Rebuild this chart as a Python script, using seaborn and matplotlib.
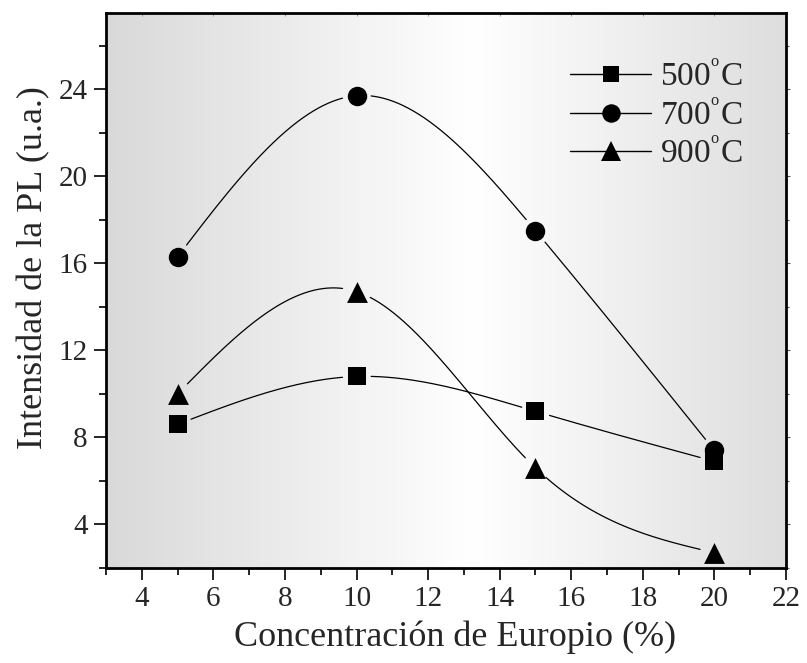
import numpy as np
import pandas as pd
import matplotlib
matplotlib.use("Agg")
import matplotlib.pyplot as plt
from matplotlib.colors import LinearSegmentedColormap
from matplotlib.lines import Line2D
import seaborn as sns

# Europium concentration (%) and PL intensity (a.u.) per annealing temperature
concentracion = [5, 10, 15, 20]
pl_500 = [8.6, 10.8, 9.2, 6.9]
pl_700 = [16.3, 23.7, 17.5, 7.4]
pl_900 = [10.0, 14.7, 6.6, 2.7]
series_labels = ["500$^{^{\\rm o}}$C", "700$^{^{\\rm o}}$C", "900$^{^{\\rm o}}$C"]
x_ticks = [4, 6, 8, 10, 12, 14, 16, 18, 20, 22]
y_ticks = [4, 8, 12, 16, 20, 24]

sns.set_style("ticks")
plt.rcParams["font.family"] = ["Liberation Serif", "DejaVu Serif"]
plt.rcParams["mathtext.fontset"] = "custom"
plt.rcParams["mathtext.rm"] = "Liberation Serif"
plt.rcParams["mathtext.it"] = "Liberation Serif:italic"


def natural_spline(x, y, xs):
    """Natural cubic spline through (x, y), evaluated at xs."""
    x = np.asarray(x, float)
    y = np.asarray(y, float)
    n = len(x)
    h = np.diff(x)
    A = np.zeros((n, n))
    b = np.zeros(n)
    A[0, 0] = A[-1, -1] = 1.0
    for i in range(1, n - 1):
        A[i, i - 1] = h[i - 1]
        A[i, i] = 2 * (h[i - 1] + h[i])
        A[i, i + 1] = h[i]
        b[i] = 3 * ((y[i + 1] - y[i]) / h[i] - (y[i] - y[i - 1]) / h[i - 1])
    c = np.linalg.solve(A, b)
    out = np.empty_like(xs)
    for k, xv in enumerate(xs):
        i = min(max(np.searchsorted(x, xv) - 1, 0), n - 2)
        dx = xv - x[i]
        bi = (y[i + 1] - y[i]) / h[i] - h[i] * (2 * c[i] + c[i + 1]) / 3
        di = (c[i + 1] - c[i]) / (3 * h[i])
        out[k] = y[i] + bi * dx + c[i] * dx ** 2 + di * dx ** 3
    return out


fig = plt.figure(figsize=(8.07, 6.63), dpi=100)
ax = fig.add_axes([106 / 807, 1 - 568 / 663, 680 / 807, 555 / 663])
ax.set_xlim(3, 22)
ax.set_ylim(2, 27.5)

# horizontal gray-white-gray gradient background
grad_cmap = LinearSegmentedColormap.from_list(
    "bg", [(0.0, "#d9d9d9"), (0.54, "#ffffff"), (1.0, "#dedede")])
ax.imshow(np.linspace(0, 1, 512)[None, :], cmap=grad_cmap, aspect="auto",
          extent=[0, 1, 0, 1], transform=ax.transAxes, zorder=0)

markers = ["s", "o", "^"]
sizes = [12.5, 14, 15]
values = [pl_500, pl_700, pl_900]

df = pd.DataFrame({
    "x": concentracion * 3,
    "y": pl_500 + pl_700 + pl_900,
    "serie": sum([[lab] * 4 for lab in series_labels], []),
})

xs = np.linspace(concentracion[0], concentracion[-1], 600)
gap_px = 14.0
for vals in values:
    ys = natural_spline(concentracion, vals, xs)
    pts = ax.transData.transform(np.column_stack([xs, ys]))
    ctr = ax.transData.transform(np.column_stack([concentracion, vals]))
    d = np.min(np.hypot(pts[:, None, 0] - ctr[None, :, 0],
                        pts[:, None, 1] - ctr[None, :, 1]), axis=1)
    ys = np.where(d < gap_px, np.nan, ys)
    ax.plot(xs, ys, color="black", lw=0.9, zorder=2)

for (lab, mk, ms) in zip(series_labels, markers, sizes):
    sub = df[df["serie"] == lab]
    sns.scatterplot(data=sub, x="x", y="y", marker=mk, s=ms ** 2,
                    color="black", edgecolor="black", linewidth=0,
                    ax=ax, zorder=3, legend=False)

handles = [Line2D([0], [0], color="black", lw=1.0, marker=mk, markersize=ms * 0.95,
                  markeredgewidth=0) for mk, ms in zip(markers, sizes)]
ax.legend(handles, series_labels, loc="upper left", bbox_to_anchor=(0.682, 0.912),
          frameon=False, fontsize=24, handlelength=2.45, handletextpad=0.27,
          labelspacing=0.22, borderaxespad=0, borderpad=0)

ax.set_xticks(x_ticks)
ax.set_yticks(y_ticks)
ax.set_xticks(np.arange(3, 23, 1), minor=True)
ax.set_yticks(np.arange(2, 28, 2), minor=True)
ax.tick_params(axis="both", which="major", direction="out", length=8.5, width=1.2,
               labelsize=21, color="black", pad=4.5)
ax.tick_params(axis="both", which="minor", direction="out", length=5, width=1.2,
               color="black")
for sp in ax.spines.values():
    sp.set_visible(True)
    sp.set_linewidth(2.0)
    sp.set_color("black")

# short marks on the top and right frame
sec_x = ax.secondary_xaxis("top")
sec_x.set_xticks(x_ticks)
sec_x.set_xticklabels([])
sec_x.tick_params(direction="in", length=2, width=0.8, color="#999999")
sec_x.spines["top"].set_visible(False)
sec_y = ax.secondary_yaxis("right")
sec_y.set_yticks(y_ticks)
sec_y.set_yticks(np.arange(2, 28, 2), minor=True)
sec_y.set_yticklabels([])
sec_y.tick_params(direction="out", which="major", length=3, width=0.8, color="#555555")
sec_y.tick_params(direction="out", which="minor", length=2, width=0.8, color="#555555")
sec_y.spines["right"].set_visible(False)

ax.set_xlabel("Concentración de Europio (%)", fontsize=26)
ax.set_ylabel("Intensidad de la PL (u.a.)", fontsize=26)
ax.xaxis.set_label_coords(0.513, -0.094)
ax.yaxis.set_label_coords(-0.082, 0.542)

fig.savefig("out.png", dpi=100)
